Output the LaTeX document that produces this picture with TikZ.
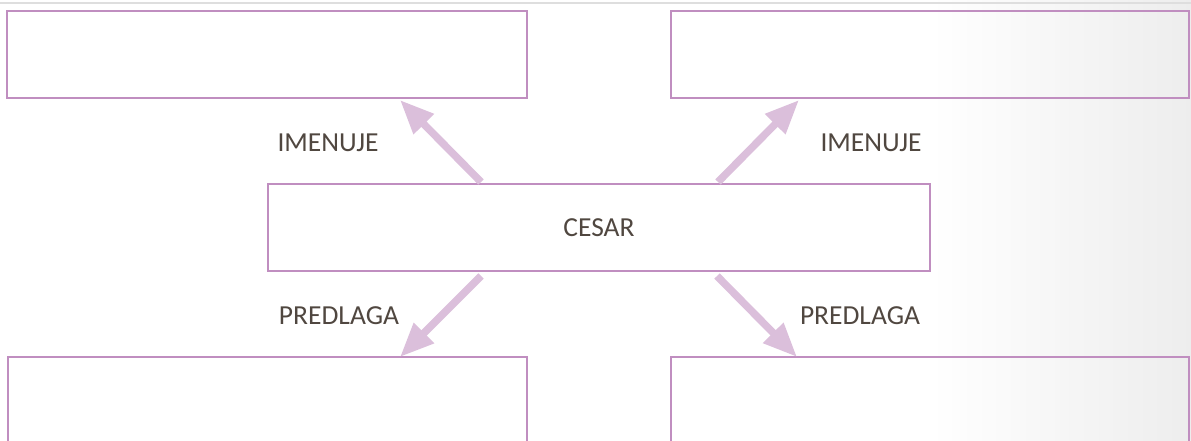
\documentclass[tikz,border=0pt]{standalone}
\usepackage{fontspec}
\setmainfont{Carlito}
\usetikzlibrary{arrows.meta}
\definecolor{boxc}{RGB}{192,142,192}
\definecolor{arrc}{RGB}{219,191,219}
\definecolor{txtc}{RGB}{80,71,64}
\begin{document}
\begin{tikzpicture}[x=1pt,y=-1pt,
  box/.style={draw=boxc,line width=2pt,inner sep=0pt},
  lbl/.style={text=txtc,font=\fontsize{27.5}{31}\selectfont,inner sep=0pt},
  bigarrow/.style={draw=arrc,line width=7.5pt,-{Triangle[length=34pt,width=27pt]}}]
\useasboundingbox (0,0) rectangle (1191,441);
\shade[left color=white,right color=black!7] (930,0) rectangle (1191,441);
\draw[black!13,line width=1.2pt] (0,3) -- (1191,3);
\node[box,minimum width=520pt,minimum height=87pt] (tl) at (267,54.5) {};
\node[box,minimum width=518pt,minimum height=87pt] (tr) at (930,54.5) {};
\node[box,minimum width=662pt,minimum height=87pt,lbl] (c) at (599,227.5) {CESAR};
\node[box,minimum width=519pt,minimum height=87pt] (bl) at (267.5,400.5) {};
\node[box,minimum width=518pt,minimum height=87pt] (br) at (930,400.5) {};
\node[lbl] (l1) at (328,143) {IMENUJE};
\node[lbl] (l2) at (871,143) {IMENUJE};
\node[lbl] (l3) at (339,316) {PREDLAGA};
\node[lbl] (l4) at (860,316) {PREDLAGA};
\coordinate (s1) at (481,182);
\coordinate (e1) at (400,100);
\coordinate (s2) at (718,182);
\coordinate (e2) at (799,100);
\coordinate (s3) at (481,276);
\coordinate (e3) at (400,357);
\coordinate (s4) at (717,276);
\coordinate (e4) at (797,357);
\draw[bigarrow] (s1) -- (e1);
\draw[bigarrow] (s2) -- (e2);
\draw[bigarrow] (s3) -- (e3);
\draw[bigarrow] (s4) -- (e4);
\end{tikzpicture}
\end{document}
